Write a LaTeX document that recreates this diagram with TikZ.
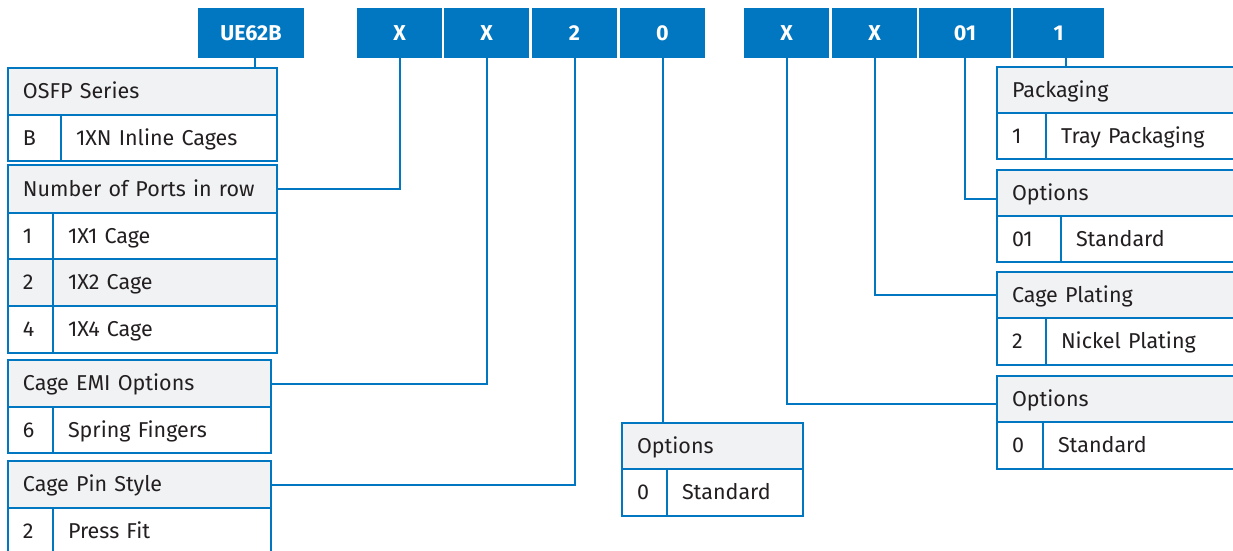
\documentclass[tikz,border=0pt]{standalone}
\usepackage{fontspec}
\setmainfont{Fira Sans}
\definecolor{ueblue}{HTML}{0077C0}
\definecolor{hdrgray}{HTML}{F1F2F4}
\definecolor{inkgray}{HTML}{231F20}
\begin{document}
\begin{tikzpicture}
[x=1pt,y=-1pt,
 every node/.append style={font=\fontsize{21.5}{25}\selectfont, outer sep=0pt},
 code/.style={fill=ueblue, text=white, font=\fontsize{21.5}{25}\selectfont\bfseries,
              minimum height=50, inner sep=0pt, anchor=north west},
 cell/.style={draw=ueblue, line width=2pt, anchor=north west, inner xsep=15pt,
              inner ysep=0pt, align=left, text=inkgray, text height=14.8pt, text depth=0pt},
 hdr/.style={cell, fill=hdrgray},
 val/.style={cell, fill=white},
 wd/.code={\pgfmathsetlengthmacro\cellw{#1-30}\tikzset{text width=\cellw}},
 ht/.style={minimum height=#1},
 link/.style={draw=ueblue, line width=2pt}]
\clip (0,0) rectangle (1233,550);
% part number boxes
\node[code, minimum width=106] (ue62b) at (198,8) {UE62B};
\node[code, minimum width=85] (cx1) at (357,8) {X};
\node[code, minimum width=85] (cx2) at (444,8) {X};
\node[code, minimum width=85] (c2) at (532,8) {2};
\node[code, minimum width=85] (c0) at (620,8) {0};
\node[code, minimum width=85] (cx3) at (744,8) {X};
\node[code, minimum width=85] (cx4) at (832,8) {X};
\node[code, minimum width=92] (c01) at (919,8) {01};
\node[code, minimum width=91] (c1) at (1013,8) {1};
% series
\node[hdr, wd=269, ht=47] (osfph) at (8,68) {OSFP Series};
\node[val, wd=53, ht=46] (osfpk) at (8,115) {B};
\node[val, wd=216, ht=46] (osfpv) at (61,115) {1XN Inline Cages};
% ports in row
\node[hdr, wd=269, ht=48] (portsh) at (8,165) {Number of Ports in row};
\node[val, wd=45, ht=46] (port1k) at (8,213) {1};
\node[val, wd=224, ht=46] (port1v) at (53,213) {1X1 Cage};
\node[hdr, wd=45, ht=47] (port2k) at (8,259) {2};
\node[hdr, wd=224, ht=47] (port2v) at (53,259) {1X2 Cage};
\node[val, wd=45, ht=47] (port4k) at (8,306) {4};
\node[val, wd=224, ht=47] (port4v) at (53,306) {1X4 Cage};
% emi
\node[hdr, wd=263, ht=47] (emih) at (8,360) {Cage EMI Options};
\node[val, wd=45, ht=46] (emik) at (8,407) {6};
\node[val, wd=218, ht=46] (emiv) at (53,407) {Spring Fingers};
% pin style
\node[hdr, wd=263, ht=47] (pinh) at (8,461) {Cage Pin Style};
\node[val, wd=45, ht=47] (pink) at (8,508) {2};
\node[val, wd=218, ht=47] (pinv) at (53,508) {Press Fit};
% middle options
\node[hdr, wd=181, ht=46] (opth) at (622,423) {Options};
\node[val, wd=45, ht=47] (optk) at (622,469) {0};
\node[val, wd=136, ht=47] (optv) at (667,469) {Standard};
% packaging
\node[hdr, wd=245, ht=46] (packh) at (997,67) {Packaging};
\node[val, wd=49, ht=46] (packk) at (997,113) {1};
\node[val, wd=196, ht=46] (packv) at (1046,113) {Tray Packaging};
% options 01
\node[hdr, wd=245, ht=46] (opt1h) at (997,170) {Options};
\node[val, wd=64, ht=46] (opt1k) at (997,216) {01};
\node[val, wd=181, ht=46] (opt1v) at (1061,216) {Standard};
% plating
\node[hdr, wd=245, ht=46] (plath) at (997,272) {Cage Plating};
\node[val, wd=49, ht=47] (platk) at (997,318) {2};
\node[val, wd=196, ht=47] (platv) at (1046,318) {Nickel Plating};
% options 0
\node[hdr, wd=245, ht=46] (opt2h) at (997,376) {Options};
\node[val, wd=46, ht=47] (opt2k) at (997,422) {0};
\node[val, wd=199, ht=47] (opt2v) at (1043,422) {Standard};
% links
\draw[link] ([xshift=4]ue62b.south) -- ([xshift=4]ue62b.south |- osfph.north);
\draw[link] (cx1.south) |- (portsh.east);
\draw[link] (cx2.south) |- (emih.east);
\draw[link] (c2.south) |- (pinh.east);
\draw[link] (c0.south) -- (c0.south |- opth.north);
\draw[link] (cx3.south) |- ([yshift=-5]opt2h.west);
\draw[link] (cx4.south) |- (plath.west);
\draw[link] (c01.south) |- ([yshift=-6]opt1h.west);
\draw[link] ([xshift=7]c1.south) -- ([xshift=7]c1.south |- packh.north);
\end{tikzpicture}
\end{document}
